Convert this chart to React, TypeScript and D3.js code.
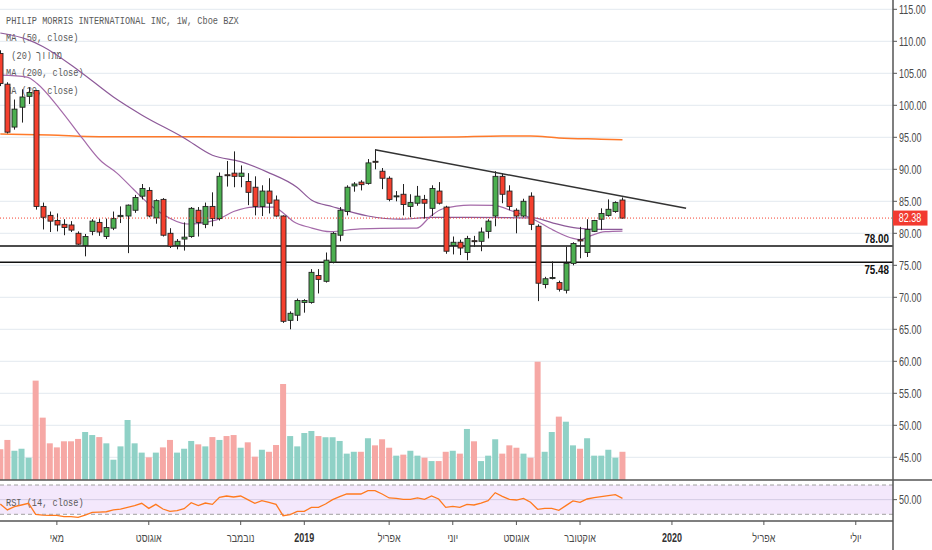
import React from 'react';
import * as d3 from 'd3';

// weekly bars, PM, Mar 2018 - Nov 2019
const OPEN = [
  108.1, 103.3, 96.6, 99.7, 101.4, 102.3, 84.2, 82.8, 82.0, 81.4,
  81.3, 80.0, 78.1, 80.3, 81.7, 79.5, 80.8, 82.6, 82.7, 83.6,
  85.8, 86.7, 82.4, 85.3, 80.0, 78.1, 79.1, 79.5, 83.6, 81.4,
  84.2, 82.3, 89.15, 89.4, 88.9, 88.1, 87.2, 84.2, 86.6, 85.2,
  82.7, 66.4, 67.2, 69.2, 69.2, 73.4, 72.5, 75.5, 79.7, 83.4,
  87.4, 88.0, 87.8, 91.25, 89.7, 88.6, 85.75, 86.1, 84.2, 84.7,
  85.3, 83.9, 86.6, 84.1, 78.1, 78.6, 77.0, 78.85, 78.75, 80.3,
  82.7, 88.9, 86.6, 83.6, 82.7, 85.8, 81.1, 72.0, 73.0, 72.3,
  71.1, 75.3, 79.0, 77.0, 80.3, 82.2, 82.8, 83.4, 85.2,
];
const HIGH = [
  108.6, 103.6, 100.9, 102.5, 102.8, 102.4, 84.8, 83.4, 83.1, 82.2,
  81.9, 80.3, 79.9, 82.2, 82.3, 82.3, 83.4, 84.2, 84.5, 86.0,
  87.7, 87.2, 85.3, 85.5, 80.8, 79.1, 81.7, 84.1, 84.1, 84.8,
  86.4, 89.5, 91.3, 92.8, 90.6, 89.4, 88.9, 87.5, 88.6, 85.9,
  82.8, 67.8, 69.8, 69.7, 74.4, 74.4, 77.0, 80.2, 84.1, 87.5,
  88.0, 88.3, 91.6, 93.1, 90.2, 88.9, 86.6, 87.7, 86.1, 87.4,
  86.0, 87.5, 88.0, 84.3, 79.5, 79.0, 79.6, 79.6, 80.9, 82.2,
  89.7, 89.4, 87.5, 83.9, 85.4, 86.4, 81.4, 73.2, 75.6, 72.6,
  77.9, 78.6, 81.0, 82.2, 82.1, 83.9, 85.3, 85.0, 85.6,
];
const LOW = [
  103.0, 95.6, 96.2, 97.3, 100.2, 83.7, 80.6, 80.2, 80.3, 79.7,
  80.2, 78.2, 76.4, 79.7, 79.6, 79.1, 80.5, 81.6, 76.9, 83.2,
  85.3, 82.5, 81.5, 79.5, 77.7, 77.5, 77.3, 79.3, 79.5, 80.8,
  81.1, 82.0, 87.3, 87.2, 87.2, 84.4, 82.8, 82.7, 83.1, 82.6,
  66.0, 65.0, 66.3, 67.6, 69.0, 70.6, 72.3, 75.3, 78.75, 82.8,
  86.5, 86.7, 87.6, 90.0, 86.9, 85.0, 85.0, 82.8, 82.5, 84.3,
  82.3, 82.7, 84.5, 76.8, 76.7, 76.6, 75.8, 77.9, 77.2, 79.2,
  81.1, 84.7, 83.6, 80.0, 82.5, 80.5, 69.4, 71.4, 72.8, 70.9,
  70.6, 75.0, 76.1, 76.3, 80.2, 80.5, 82.6, 83.2, 82.3,
];
const CLOSE = [
  103.4, 95.8, 99.4, 101.3, 102.0, 84.2, 82.5, 81.9, 81.3, 80.9,
  80.5, 78.3, 79.5, 81.9, 80.2, 80.9, 82.3, 82.8, 84.4, 85.6,
  87.0, 82.7, 85.1, 79.7, 78.0, 78.75, 79.4, 83.9, 81.7, 84.2,
  82.3, 88.9, 89.05, 88.9, 89.4, 86.4, 84.2, 86.6, 84.7, 82.7,
  66.25, 67.5, 69.5, 69.5, 73.9, 72.8, 75.8, 80.0, 83.6, 87.2,
  87.7, 87.6, 91.0, 91.15, 88.6, 85.3, 85.85, 84.5, 84.8, 85.8,
  84.7, 87.0, 84.7, 77.2, 78.6, 77.7, 79.2, 78.7, 80.2, 81.9,
  88.9, 86.1, 84.2, 82.7, 85.0, 81.4, 72.2, 72.9, 73.1, 71.25,
  75.3, 78.4, 78.8, 80.6, 82.0, 83.1, 83.75, 84.8, 82.38,
];
// millions of shares
const VOLUME = [
  18.2, 23.7, 17.3, 18.5, 13.2, 58.8, 36.9, 21.7, 19.3, 22.9,
  22.9, 24.3, 28.4, 26.6, 25.4, 21.7, 12.0, 19.9, 35.5, 21.7,
  16.2, 13.4, 16.2, 19.3, 23.7, 16.2, 18.5, 23.1, 21.1, 19.9,
  25.4, 23.7, 26.0, 26.6, 19.1, 22.3, 13.8, 17.9, 16.7, 20.7,
  56.8, 26.0, 19.9, 27.8, 29.0, 26.0, 25.3, 25.3, 23.1, 15.6,
  16.7, 16.7, 24.7, 20.5, 24.1, 19.1, 14.4, 15.0, 17.3, 14.4,
  13.2, 11.2, 11.2, 16.7, 17.3, 15.6, 30.2, 22.9, 11.2, 14.4,
  24.1, 15.6, 20.5, 19.1, 15.6, 13.2, 70.0, 16.7, 28.4, 37.5,
  34.5, 20.5, 18.5, 24.7, 14.4, 14.4, 17.9, 13.2, 16.7,
];
const RSI_14 = [
  44, 36, 40.4, 42.7, 45, 30, 29, 28.5, 28.5, 26.7,
  26.7, 25.9, 29, 32.7, 33, 33.5, 35.9, 37.2, 39.5, 41.8,
  45, 38.1, 43.6, 37.2, 34, 35, 37.7, 45.8, 41.8, 45.4,
  43.6, 53.2, 55, 53.6, 55, 50, 45, 48.6, 46.4, 43.6,
  28.1, 29.5, 34, 34, 39.5, 39.5, 44, 50, 54, 57.7,
  57.7, 57.7, 62.2, 62.2, 57.7, 52.3, 51.8, 50.5, 50.5, 52.3,
  50.5, 55, 50.9, 39.5, 40.9, 39.5, 43.6, 42.7, 45.4, 48.6,
  59.5, 54.5, 50.5, 49.5, 51.8, 46.4, 36.8, 38.1, 38.1, 35.5,
  41.8, 48.2, 46.4, 50.9, 52.7, 54, 55.4, 56.8, 51.8,
];

// moving averages read at some bars: [bar, value]
const MA50 = [
  [0, 111.3], [3.8, 110.3], [6, 109.2], [11.3, 105.25], [16, 101.3], [20, 98.5],
  [26, 94.9], [30, 92.2], [34, 91.2], [37.7, 89.6], [42, 87.15], [44, 85.2],
  [47, 84.15], [52, 82.7], [56.6, 82.2], [61, 82.5], [66.5, 82.5], [75.4, 82.4],
  [78.2, 81.6], [81.6, 80.8], [84.9, 80.6], [88, 80.6],
];
const MA20 = [
  [0, 104.7], [3.8, 104.4], [5.2, 103.4], [8.5, 99.3], [11.7, 94.7], [14.1, 91.45],
  [16.5, 89.4], [18.9, 86.8], [20.7, 84.9], [23.1, 82.9], [26.4, 81.45], [30.6, 82.1],
  [33, 83.4], [35.8, 84.1], [38.7, 84.1], [40.1, 83.1], [41.5, 81.8], [43.8, 80.9],
  [46.7, 80.25], [50.9, 80.7], [56.6, 80.8], [58.9, 80.8], [60.8, 82.6], [62.5, 83.8],
  [66.5, 84.4], [69.7, 84.35], [72.6, 83.4], [75.4, 82.2], [78.2, 80.5], [81, 79.2],
  [82, 79.0], [83.2, 79.5], [85.6, 80.25], [88, 80.35],
];
const MA200 = [
  [0, 95.5], [7, 95.35], [14, 95.1], [28, 95.1], [42, 95.0], [57, 95.0],
  [64, 95.05], [71, 95.2], [75, 95.2], [79, 94.9], [85, 94.7], [88, 94.6],
];

const TREND = [[53, 93.05], [97, 83.9]];
const LEVELS = [78.0, 75.48];
const PRICE_TICKS = [115, 110, 105, 100, 95, 90, 85, 80, 75, 70, 65, 60, 55, 50, 45];
const TIME_TICKS = [
  { bar: 8, label: 'מאי', year: false },
  { bar: 21, label: 'אוגוסט', year: false },
  { bar: 34, label: 'נובמבר', year: false },
  { bar: 43, label: '2019', year: true },
  { bar: 55, label: 'אפריל', year: false },
  { bar: 64, label: 'יוני', year: false },
  { bar: 73, label: 'אוגוסט', year: false },
  { bar: 82, label: 'אוקטובר', year: false },
  { bar: 95, label: '2020', year: true },
  { bar: 108, label: 'אפריל', year: false },
  { bar: 121, label: 'יולי', year: false },
];
const LEGEND = [
  'PHILIP MORRIS INTERNATIONAL INC, 1W, Cboe BZX',
  'MA (50, close)',
  '',
  'MA (200, close)',
  'MA (20, close)',
];
// third legend row, drawn as two centred pieces so bidi can't flip them
const LEGEND_HE = ['(20)', 'מתווך'];

const W = 932;
const H = 550;
const AXIS_X = 893;
const PANE_BOTTOM = 480;
const RSI_BOTTOM = 521;
const RED = '#f5402e';
const GREEN = '#4caf50';
const TEXT = '#4a4a4a';
const MONO = '"Liberation Mono", "DejaVu Sans Mono", monospace';
const SANS = '"Liberation Sans", Arial, sans-serif';

const x = d3.scaleLinear().domain([0, 126]).range([0.3, 0.3 + 126 * 7.07]);
const y = d3.scaleLinear().domain([45, 115]).range([457.3, 9.3]);
const yVol = d3.scaleLinear().domain([0, 70]).range([PANE_BOTTOM, 361.7]);
const yRsi = d3.scaleLinear().domain([30, 70]).range([514.3, 485]);

const maLine = d3.line<number[]>().x(d => x(d[0])).y(d => y(d[1])).curve(d3.curveMonotoneX);
const rsiLine = d3.line<number>().x((d, i) => x(i)).y(d => yRsi(d));

// TradingView's font is narrow, squeeze a normal one
const Narrow = ({ px, py, sx = 0.75, children, ...rest }: any) => (
  <text transform={`translate(${px},${py}) scale(${sx},1)`} {...rest}>{children}</text>
);

export default function App() {
  const last = CLOSE[CLOSE.length - 1];
  return (
    <svg width={W} height={H} style={{ position: 'absolute', left: 0, top: 0, background: '#fff' }}>
      <defs>
        <clipPath id="main"><rect x={0} y={0} width={AXIS_X} height={PANE_BOTTOM} /></clipPath>
        <clipPath id="rsi"><rect x={0} y={PANE_BOTTOM} width={AXIS_X} height={RSI_BOTTOM - PANE_BOTTOM} /></clipPath>
      </defs>

      {/* grid */}
      {PRICE_TICKS.map(p => (
        <line key={p} x1={0} x2={AXIS_X} y1={y(p)} y2={y(p)} stroke="#e8edf2" strokeWidth={1.2} />
      ))}

      <g clipPath="url(#main)">
        {/* volume overlay */}
        {VOLUME.map((v, i) => (
          <rect key={i} x={x(i) - 3} y={yVol(v)} width={6} height={PANE_BOTTOM - yVol(v)}
            fill={CLOSE[i] >= OPEN[i] ? '#8fd1c6' : '#f6a8a5'} />
        ))}

        {LEGEND.map((t, i) => (
          <Narrow key={i} px={6} py={23.5 + i * 17.5} sx={0.75} fontFamily={MONO}
            fontSize={11.5} fill="#5a5a5a">{t}</Narrow>
        ))}
        <Narrow px={21.7} py={58.5} sx={0.75} textAnchor="middle" fontFamily={MONO}
          fontSize={11.5} fill="#5a5a5a">{LEGEND_HE[0]}</Narrow>
        <Narrow px={49} py={58.5} sx={0.75} textAnchor="middle" fontFamily={MONO}
          fontSize={11.5} fill="#5a5a5a">{LEGEND_HE[1]}</Narrow>

        <path d={maLine(MA200 as any) || ''} fill="none" stroke="#ff7a2a" strokeWidth={1.5} />
        <path d={maLine(MA50 as any) || ''} fill="none" stroke="#8d5a99" strokeWidth={1.2} />
        <path d={maLine(MA20 as any) || ''} fill="none" stroke="#a46aa9" strokeWidth={1.2} />

        {LEVELS.map(l => (
          <line key={l} x1={0} x2={AXIS_X} y1={y(l)} y2={y(l)} stroke="#111" strokeWidth={1.5} />
        ))}

        {CLOSE.map((c, i) => {
          const o = OPEN[i];
          const cx = Math.round(x(i)) + 0.5;
          const top = y(Math.max(o, c));
          const bot = y(Math.min(o, c));
          return (
            <g key={i}>
              <line x1={cx} x2={cx} y1={y(HIGH[i])} y2={y(LOW[i])} stroke="#222" strokeWidth={1} />
              <rect x={cx - 2.5} y={top} width={5} height={Math.max(bot - top, 1)}
                fill={c >= o ? GREEN : RED} stroke="#222" strokeWidth={0.9} />
            </g>
          );
        })}

        <line x1={x(TREND[0][0])} y1={y(TREND[0][1])} x2={x(TREND[1][0])} y2={y(TREND[1][1])}
          stroke="#333" strokeWidth={1.5} />

        <line x1={0} x2={AXIS_X} y1={y(last)} y2={y(last)} stroke={RED} strokeWidth={1} strokeDasharray="1,2" />
      </g>

      {/* level labels */}
      <Narrow px={889} py={243.3} sx={0.82} textAnchor="end" fontFamily={SANS} fontWeight="bold" fontSize={12} fill="#111">
        {LEVELS[0].toFixed(2)}
      </Narrow>
      <Narrow px={889} py={274.3} sx={0.82} textAnchor="end" fontFamily={SANS} fontWeight="bold" fontSize={12} fill="#111">
        {LEVELS[1].toFixed(2)}
      </Narrow>

      {/* RSI pane */}
      <rect x={0} y={yRsi(70)} width={AXIS_X} height={yRsi(30) - yRsi(70)} fill="#f4e8fc" />
      <line x1={0} x2={AXIS_X} y1={yRsi(70)} y2={yRsi(70)} stroke="#a0a0a0" strokeDasharray="4,3" />
      <line x1={0} x2={AXIS_X} y1={yRsi(30)} y2={yRsi(30)} stroke="#a0a0a0" strokeDasharray="4,3" />
      <line x1={0} x2={AXIS_X} y1={yRsi(50)} y2={yRsi(50)} stroke="#d3cbe3" />
      <g clipPath="url(#rsi)">
        <Narrow px={6} py={505.5} sx={0.75} fontFamily={MONO} fontSize={11.5} fill="#5a5a5a">RSI (14, close)</Narrow>
        <path d={rsiLine(RSI_14) || ''} fill="none" stroke="#ff7a1f" strokeWidth={1.3} />
      </g>

      {/* frame */}
      <line x1={0} x2={W} y1={PANE_BOTTOM} y2={PANE_BOTTOM} stroke="#555" strokeWidth={1.5} />
      <line x1={0} x2={AXIS_X} y1={RSI_BOTTOM} y2={RSI_BOTTOM} stroke="#555" strokeWidth={1.5} />
      <line x1={AXIS_X} x2={AXIS_X} y1={0} y2={H} stroke="#555" strokeWidth={1.5} />

      {/* price axis */}
      {PRICE_TICKS.map(p => (
        <g key={p}>
          <line x1={AXIS_X} x2={AXIS_X + 4} y1={y(p)} y2={y(p)} stroke="#555" />
          <Narrow px={899} py={y(p) + 4.2} sx={0.75} fontFamily={SANS} fontSize={12} fill={TEXT}>{p.toFixed(2)}</Narrow>
        </g>
      ))}
      <line x1={AXIS_X} x2={AXIS_X + 4} y1={yRsi(50)} y2={yRsi(50)} stroke="#555" />
      <Narrow px={899} py={yRsi(50) + 4.2} sx={0.75} fontFamily={SANS} fontSize={12} fill={TEXT}>50.00</Narrow>

      <rect x={AXIS_X} y={y(last) - 7.5} width={34.5} height={15} fill="#f23a30" />
      <Narrow px={910} py={y(last) + 4.2} sx={0.75} textAnchor="middle" fontFamily={SANS} fontSize={12} fill="#fff">
        {last.toFixed(2)}
      </Narrow>

      {/* time axis */}
      {TIME_TICKS.map(t => (
        <g key={t.bar}>
          <line x1={x(t.bar)} x2={x(t.bar)} y1={RSI_BOTTOM} y2={RSI_BOTTOM + 4} stroke="#555" />
          <Narrow px={x(t.bar)} py={542} sx={0.72} textAnchor="middle" fontFamily={SANS} fontSize={12.5}
            fontWeight={t.year ? 'bold' : 'normal'} fill={t.year ? '#333' : TEXT}>{t.label}</Narrow>
        </g>
      ))}
    </svg>
  );
}
